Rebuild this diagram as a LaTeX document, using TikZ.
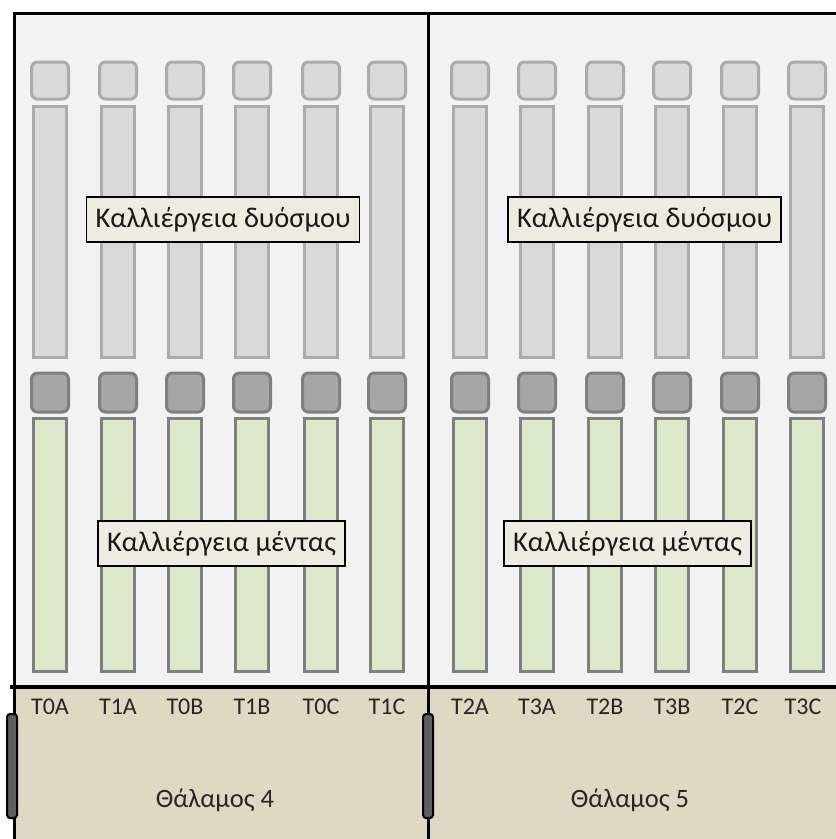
\documentclass[tikz,border=0pt]{standalone}
\usepackage{fontspec}
\setmainfont{Carlito}
\definecolor{fond}{HTML}{F2F2F2}
\definecolor{sol}{HTML}{DDD9C3}
\definecolor{gristop}{HTML}{D9D9D9}
\definecolor{bordtop}{HTML}{ABABAB}
\definecolor{grisfonce}{HTML}{A6A6A6}
\definecolor{bordfonce}{HTML}{7F7F7F}
\definecolor{vert}{HTML}{DDE8CB}
\definecolor{etiquette}{HTML}{EEECE1}
\definecolor{poignee}{HTML}{5F5F5F}
\tikzset{
  boite/.style={draw=black, line width=1.2pt, fill=etiquette, minimum height=45pt,
    inner xsep=9pt, font=\fontsize{28.5}{30}\selectfont, text=black!90},
  code/.style={font=\fontsize{24}{26}\selectfont, text=black!85},
  chambre/.style={font=\fontsize{26.5}{28}\selectfont, text=black!85}
}
\begin{document}
\begin{tikzpicture}[x=1pt, y=-1pt]
    \useasboundingbox (0, 0) rectangle (836, 839);

    % Fonds
    \fill[fond] (14, 13) rectangle (836, 687);
    \fill[sol] (14, 687) rectangle (836, 839);

    % Colonnes
    \foreach \x in {50, 118, 185, 252, 321, 387, 470, 537, 605, 672, 740, 807} {
      \draw[bordtop, fill=gristop, line width=3pt, rounded corners=6pt]
      (\x-18.5, 62) rectangle (\x+18.5, 99);
      \draw[bordtop, fill=gristop, line width=3pt] (\x-16.5, 106) rectangle (\x+16.5, 357);
      \draw[bordfonce, fill=grisfonce, line width=3pt, rounded corners=6pt]
      (\x-18.5, 373) rectangle (\x+18.5, 412);
      \draw[bordfonce, fill=vert, line width=3pt] (\x-16.5, 418) rectangle (\x+16.5, 671);
    }

    % Cadre
    \draw[line width=3pt] (14, 839) -- (14, 13) -- (836, 13);
    \draw[line width=3pt] (428, 13) -- (428, 839);
    \draw[line width=3.5pt] (10, 687) -- (836, 687);

    % Poignees
    \draw[line width=2pt, fill=poignee, rounded corners=3pt] (7, 714) rectangle (17, 818);
    \draw[line width=2pt, fill=poignee, rounded corners=3pt] (423, 714) rectangle (433, 818);

    % Cultures
    \node[boite] (dyosmos4) at (223, 219.5) {Καλλιέργεια δυόσμου};
    \node[boite] (dyosmos5) at (644.5, 219.5) {Καλλιέργεια δυόσμου};
    \node[boite] (menta4) at (221.5, 543.5) {Καλλιέργεια μέντας};
    \node[boite] (menta5) at (627.5, 543.5) {Καλλιέργεια μέντας};

    % Codes
    \foreach \x/\t in {50/T0A, 118/T1A, 185/T0B, 252/T1B, 321/T0C, 387/T1C,
      470/T2A, 537/T3A, 605/T2B, 672/T3B, 740/T2C, 803/T3C} {
      \node[code] (c\t) at (\x, 707) {\t};
    }

    % Chambres
    \node[chambre] (thalamos4) at (215, 800) {Θάλαμος 4};
    \node[chambre] (thalamos5) at (630, 800) {Θάλαμος 5};
  \end{tikzpicture}
\end{document}
